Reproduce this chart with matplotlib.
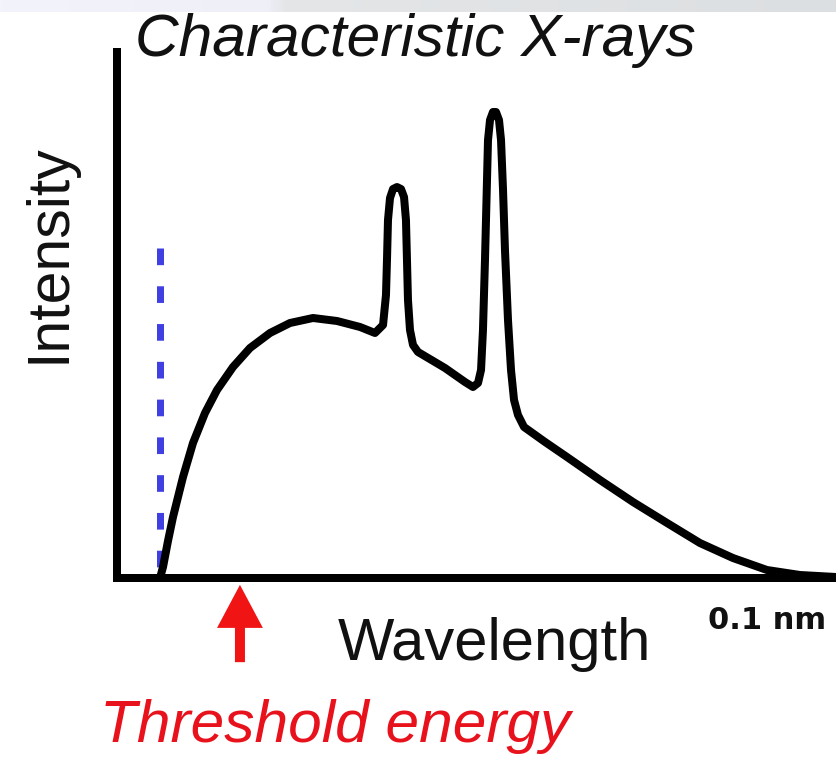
import matplotlib
matplotlib.use("Agg")
import matplotlib.pyplot as plt
import numpy as np
from matplotlib.colors import LinearSegmentedColormap

# ---- data (wavelength in pm, 0.1 nm = 100 pm; intensity arbitrary units) ----
wavelength = [5.98, 6.40, 7.09, 7.79, 9.18, 10.57, 12.24, 13.91, 16.13, 18.50,
              21.28, 24.06, 27.26, 30.60, 33.80, 35.88, 37.00, 37.41,
              37.55, 37.69, 37.97, 38.39, 38.94, 39.50, 39.92, 40.19, 40.33, 40.47,
              40.75, 41.17, 41.86, 45.62, 48.40, 49.51, 50.21, 50.63, 50.90, 51.18,
              51.46, 51.60, 51.88, 52.29, 52.71, 53.13, 53.41, 53.69, 53.96, 54.38,
              54.80, 55.22, 55.77, 56.61, 59.53, 62.59, 67.18, 71.77, 76.50, 81.08,
              85.67, 90.40, 94.99, 100.0]
intensity = [0.0, 2.09, 7.03, 11.60, 19.20, 25.67, 31.37, 35.74, 40.11, 43.73,
             46.58, 48.48, 49.43, 48.86, 47.72, 46.58, 48.10, 53.80,
             60.46, 68.06, 72.24, 73.95, 74.33, 73.95, 72.43, 68.06, 60.46, 52.85,
             47.15, 44.30, 42.97, 39.92, 37.26, 36.31, 37.07, 39.54, 47.15, 60.46,
             75.67, 83.27, 87.07, 88.59, 88.59, 87.07, 83.27, 73.76, 62.36, 49.05,
             39.54, 33.84, 30.99, 28.71, 25.86, 23.00, 18.63, 14.45, 10.46, 6.65,
             3.80, 1.52, 0.57, 0.19]
cutoff_wavelength = 5.98
cutoff_top = 62.7
threshold_wavelength = 17.1
x_max = 100.0
y_max = 100.0

title = "Characteristic X-rays"
ylabel = "Intensity"
xlabel = "Wavelength"
scale_label = "0.1 nm"
threshold_label = "Threshold energy"

W, H = 836, 757
fig = plt.figure(figsize=(W / 100, H / 100), dpi=100)
fig.patch.set_facecolor("white")

# top light band
band = fig.add_axes([0, 1 - 12 / H, 1, 12 / H])
cmap = LinearSegmentedColormap.from_list(
    "band", [(0, "#f3f3fb"), (0.32, "#efeff8"), (0.34, "#e4e6e8"), (1, "#dcdfe1")])
band.imshow(np.linspace(0, 1, 256)[None, :], aspect="auto", cmap=cmap,
            extent=[0, 1, 0, 1])
band.set_axis_off()

lw = 8 * 72 / 100  # 8 px
ax = fig.add_axes([117 / W, (H - 578) / H, (W - 117) / W, (578 - 52) / H])
ax.set_xlim(0, x_max)
ax.set_ylim(0, y_max)
for s in ["top", "right"]:
    ax.spines[s].set_visible(False)
for s in ["left", "bottom"]:
    ax.spines[s].set_linewidth(lw)
    ax.spines[s].set_capstyle("projecting")
    ax.spines[s].set_color("black")
ax.set_xticks([])
ax.set_yticks([])
ax.patch.set_alpha(0)

# blue dashed cutoff line
plt.rcParams["lines.scale_dashes"] = False
ax.plot([cutoff_wavelength, cutoff_wavelength], [cutoff_top, 0],
        color="#3f3fe2", lw=7 * 72 / 100, dashes=(12.0, 15.2),
        solid_capstyle="butt", dash_capstyle="butt", zorder=2, clip_on=False)

# spectrum
ax.plot(wavelength, intensity, color="black", lw=lw, solid_joinstyle="round",
        solid_capstyle="round", zorder=3, clip_on=False)

# red arrow
ax.annotate("", xy=(threshold_wavelength, -1.3), xytext=(threshold_wavelength, -16.0),
            xycoords="data", textcoords="data", annotation_clip=False,
            arrowprops=dict(arrowstyle="simple,head_width=33,head_length=31,tail_width=7.2",
                            mutation_scale=1, color="#f01414", lw=0,
                            shrinkA=0, shrinkB=0))

font = "Liberation Sans"
fig.text(135 / W, 1 - 56 / H, title, fontsize=43.5, style="italic", family=font,
         ha="left", va="baseline", color="#111111")
fig.text(65 / W, 1 - 253 / H, ylabel, fontsize=42.5, family=font, rotation=90,
         rotation_mode="anchor", ha="center", va="baseline", color="#111111")
fig.text(494 / W, 1 - 660 / H, xlabel, fontsize=43, family=font,
         ha="center", va="baseline", color="#111111")
fig.text(708 / W, 1 - 629 / H, scale_label, fontsize=22, family="DejaVu Sans",
         weight="bold", ha="left", va="baseline", color="#111111")
fig.text(100 / W, 1 - 742 / H, threshold_label, fontsize=43.5, style="italic",
         family=font, ha="left", va="baseline", color="#e8121c")

fig.savefig("out.png", dpi=100)
